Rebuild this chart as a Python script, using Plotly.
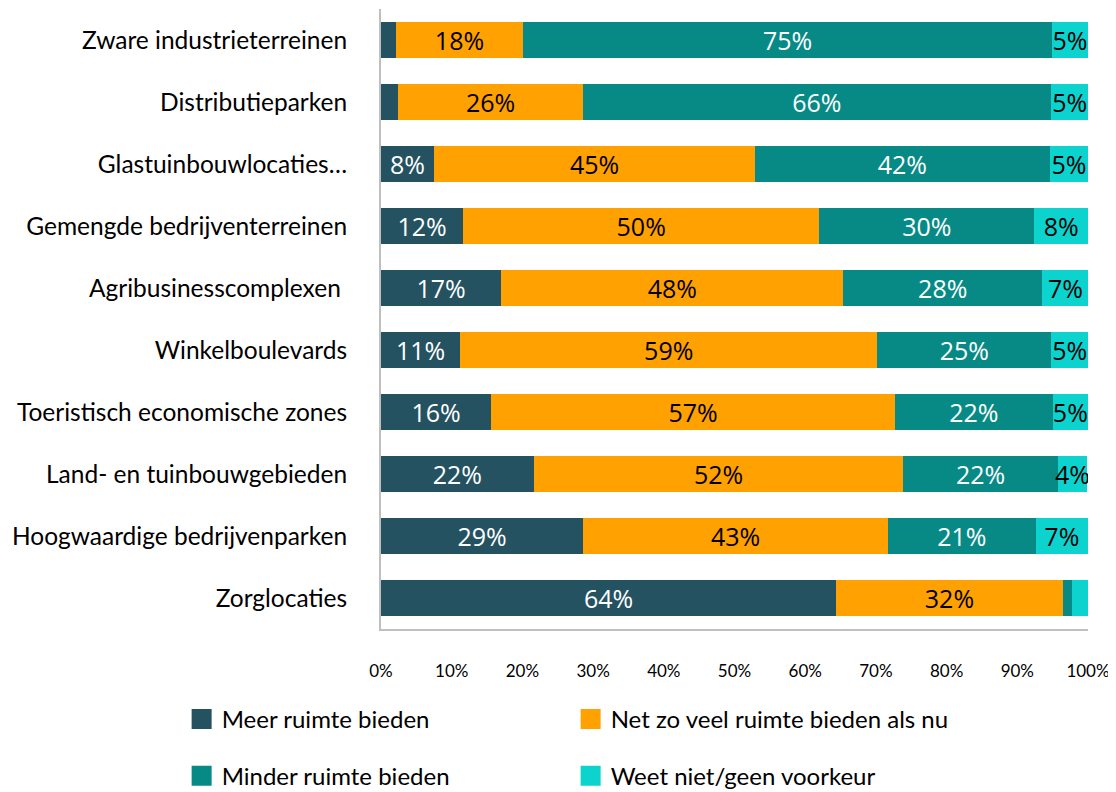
import plotly.graph_objects as go

categories = [
    "Zware industrieterreinen",
    "Distributieparken",
    "Glastuinbouwlocaties…",
    "Gemengde bedrijventerreinen",
    "Agribusinesscomplexen ",
    "Winkelboulevards",
    "Toeristisch economische zones",
    "Land- en tuinbouwgebieden",
    "Hoogwaardige bedrijvenparken",
    "Zorglocaties",
]
meer = [2.1, 2.4, 7.5, 11.6, 17.0, 11.2, 15.6, 21.6, 28.6, 64.4]
netzo = [18.0, 26.2, 45.4, 50.4, 48.4, 59.0, 57.1, 52.3, 43.1, 32.0]
minder = [74.8, 66.1, 41.7, 30.4, 28.1, 24.6, 22.3, 21.8, 20.9, 1.4]
weetniet = [5.1, 5.4, 5.4, 7.6, 6.6, 5.2, 5.0, 4.2, 7.4, 2.3]

series = [
    ("Meer ruimte bieden", meer, "#245261", "white", "legend"),
    ("Net zo veel ruimte bieden als nu", netzo, "#FFA100", "black", "legend"),
    ("Minder ruimte bieden", minder, "#078A85", "white", "legend2"),
    ("Weet niet/geen voorkeur", weetniet, "#0DD3CF", "black", "legend2"),
]

FONT = "Lato"
LABEL_FONT = "Open Sans"
fig = go.Figure()
for name, vals, color, tcol, leg in series:
    texts = [f"{round(v)}%" if v >= 3 else "" for v in vals]
    fig.add_trace(go.Bar(
        y=categories, x=vals, name=name, orientation="h",
        marker=dict(color=color, line=dict(width=0)),
        text=texts, textposition="inside", insidetextanchor="middle",
        textangle=0, textfont=dict(color=tcol, size=25, family=LABEL_FONT),
        showlegend=False, hoverinfo="skip",
    ))
# legend-only entries with larger square swatches
for name, vals, color, tcol, leg in series:
    fig.add_trace(go.Scatter(
        x=[None], y=[None], mode="markers", name=name, legend=leg,
        marker=dict(symbol="square", size=16, color=color,
                    line=dict(color=color, width=4)),
        hoverinfo="skip",
    ))

fig.update_layout(
    barmode="stack",
    bargap=0.42,
    width=1108, height=792,
    margin=dict(l=373, r=28, t=1, b=171),
    paper_bgcolor="white", plot_bgcolor="white",
    font=dict(family=FONT, color="black"),
    uniformtext=dict(minsize=25, mode="show"),
    legend=dict(orientation="h", x=-0.282, xanchor="left", y=-0.1097, yanchor="top",
                entrywidth=344, entrywidthmode="pixels", traceorder="normal",
                font=dict(size=24, family=FONT), itemclick=False),
    legend2=dict(orientation="h", x=-0.282, xanchor="left", y=-0.201, yanchor="top",
                 entrywidth=344, entrywidthmode="pixels", traceorder="normal",
                 font=dict(size=24, family=FONT), itemclick=False),
)
fig.update_xaxes(range=[0, 100], dtick=10, ticksuffix="%", showgrid=False,
                 zeroline=False, showline=True, linecolor="#BFBFBF", linewidth=2,
                 tickfont=dict(size=17, family=FONT), ticklabelstandoff=26)
fig.update_yaxes(autorange="reversed", showgrid=False, showline=True,
                 linecolor="#BFBFBF", linewidth=2,
                 tickfont=dict(size=24.5, family=FONT), ticklabelstandoff=27)

fig.write_html("out.html")
